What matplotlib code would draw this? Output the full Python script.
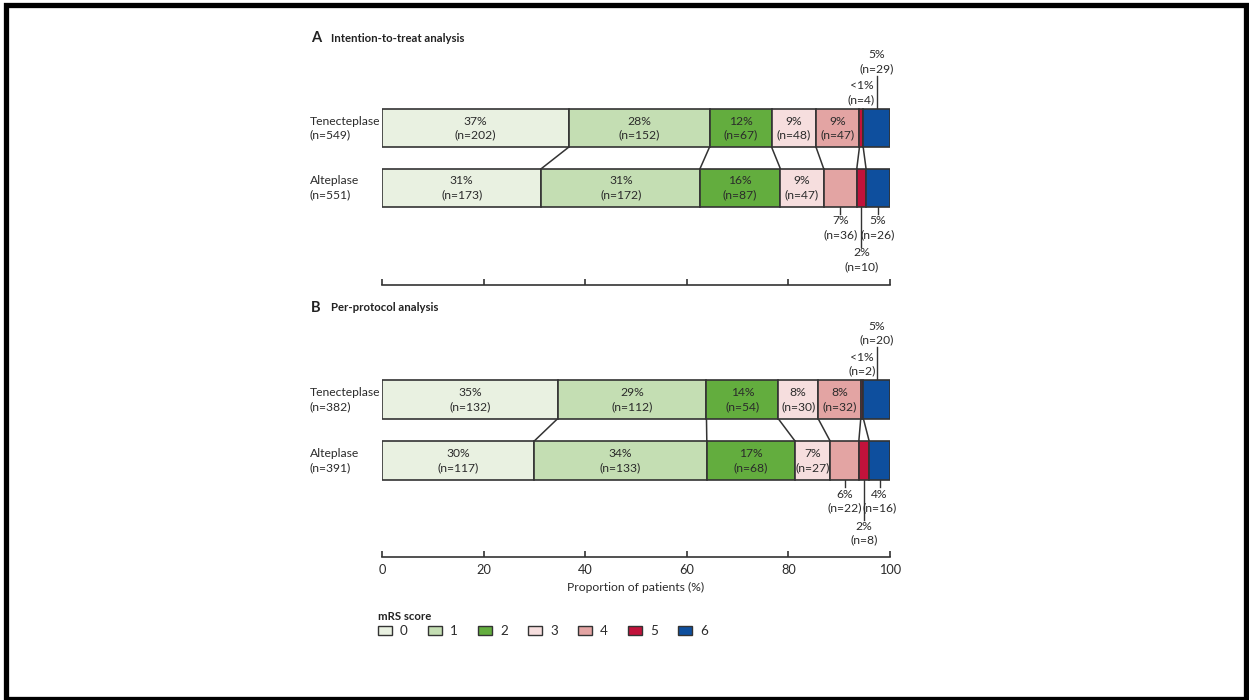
import matplotlib
matplotlib.use("Agg")
import matplotlib.pyplot as plt
from matplotlib.patches import Rectangle

plt.rcParams['font.family'] = ['Lato', 'DejaVu Sans']

# mRS score categories and colours
scores = ['0', '1', '2', '3', '4', '5', '6']
colors = ['#e9f1e1', '#c4deb3', '#63ad3e', '#f6dede', '#e3a4a3', '#c1123b', '#0e4f9e']

groups = ['Tenecteplase', 'Alteplase']
ticks = [0, 20, 40, 60, 80, 100]

# patient counts per mRS score (0..6)
itt_tnk = [202, 152, 67, 48, 47, 4, 29]
itt_alt = [173, 172, 87, 47, 36, 10, 26]
pp_tnk = [132, 112, 54, 30, 32, 2, 20]
pp_alt = [117, 133, 68, 27, 22, 8, 16]

W, H = 1249, 700
TXT = '#2b2b2b'
EDGE = '#333333'
FS = 8.7


def rect(x0, y0, x1, y1):
    # pixel box (top-left origin) -> figure fraction
    return [x0 / W, 1 - y1 / H, (x1 - x0) / W, (y1 - y0) / H]


def pct_text(c, n):
    p = 100 * c / n
    return '<1%' if p < 1 else f'{p:.0f}%'


fig = plt.figure(figsize=(W / 100, H / 100), dpi=100)

panels = [
    ('A', 'Intention-to-treat analysis', [itt_tnk, itt_alt], (40, 285), (128, 187.5), 38, False),
    ('B', 'Per-protocol analysis', [pp_tnk, pp_alt], (310, 557), (399.5, 460.5), 38.5, True),
]

# labels placed outside the bar: {segment: leader length in px}
above = {5: 0, 6: 33}
below = {4: 7, 5: 40, 6: 7}

for letter, title, rows, (ytop, ybot), row_y, bh, show_labels in panels:
    ax = fig.add_axes(rect(382, ytop, 890, ybot))
    ax.set_xlim(0, 100)
    ax.set_ylim(ybot, ytop)

    lefts_all = []
    for i, counts in enumerate(rows):
        n = sum(counts)
        pcts = [100 * c / n for c in counts]
        lefts = [sum(pcts[:k]) for k in range(len(pcts))]
        lefts_all.append(lefts)
        y = row_y[i]
        ax.barh(y, pcts, left=lefts, height=bh, color=colors,
                edgecolor=EDGE, linewidth=1.2, zorder=2)
        ax.text(-14.2, y, f'{groups[i]}\n(n={n})', ha='left', va='center',
                fontsize=FS, color=TXT, linespacing=1.3, clip_on=False)

        inside = 5 if i == 0 else 4
        for k, c in enumerate(counts):
            cx = lefts[k] + pcts[k] / 2
            lab = f'{pct_text(c, n)}\n(n={c})'
            if k < inside:
                ax.text(cx, y, lab, ha='center', va='center', fontsize=FS,
                        color=TXT, linespacing=1.3, zorder=3)
            elif i == 0:
                top = y - bh / 2
                L = above[k]
                if L:
                    ax.plot([cx, cx], [top, top - L], color=EDGE, lw=1, zorder=1)
                ax.text(cx, top - L - (2 if L else 4), lab, ha='center', va='bottom',
                        fontsize=FS, color=TXT, linespacing=1.3)
            else:
                bot = y + bh / 2
                L = below[k]
                ax.plot([cx, cx], [bot, bot + L], color=EDGE, lw=1, zorder=1)
                ax.text(cx, bot + L + (1 if L > 10 else 2), lab, ha='center', va='top',
                        fontsize=FS, color=TXT, linespacing=1.3)

    # connectors between cumulative boundaries of the two bars
    for k in range(1, len(scores)):
        ax.plot([lefts_all[0][k], lefts_all[1][k]],
                [row_y[0] + bh / 2, row_y[1] - bh / 2],
                color=EDGE, lw=1.1, zorder=1)

    for s in ['top', 'right', 'left']:
        ax.spines[s].set_visible(False)
    ax.spines['bottom'].set_color(EDGE)
    ax.spines['bottom'].set_linewidth(1.2)
    ax.set_yticks([])
    ax.set_xticks(ticks)
    ax.tick_params(axis='x', direction='in', length=4, width=1.2, color=EDGE,
                   labelsize=FS + 0.5, labelcolor=TXT, pad=5)
    if show_labels:
        ax.set_xlabel('Proportion of patients (%)', fontsize=FS, color=TXT, labelpad=4)
    else:
        ax.set_xticklabels([])

    fig.text(311 / W, 1 - (ytop - 2) / H, letter, fontsize=10.5, fontweight='bold',
             color='#222222', va='center', ha='left')
    fig.text(331 / W, 1 - (ytop - 2) / H, title, fontsize=8.2, fontweight='bold',
             color='#222222', va='center', ha='left')

# legend
fig.text(378 / W, 1 - 616 / H, 'mRS score', fontsize=8.2, fontweight='bold',
         color='#222222', va='center', ha='left')
for k, (s, c) in enumerate(zip(scores, colors)):
    x0 = 378 + 50 * k
    fig.patches.append(Rectangle((x0 / W, 1 - 635 / H), 14 / W, 9 / H,
                                 transform=fig.transFigure, facecolor=c,
                                 edgecolor=EDGE, linewidth=1))
    fig.text((x0 + 22) / W, 1 - 631 / H, s, fontsize=FS + 1, color=TXT,
             va='center', ha='left')

# outer frame
fig.patches.append(Rectangle((5.5 / W, 1.5 / H), 1240 / W, 693.5 / H,
                             transform=fig.transFigure, fill=False,
                             edgecolor='black', linewidth=3.8))

fig.savefig('out.png', dpi=100)
